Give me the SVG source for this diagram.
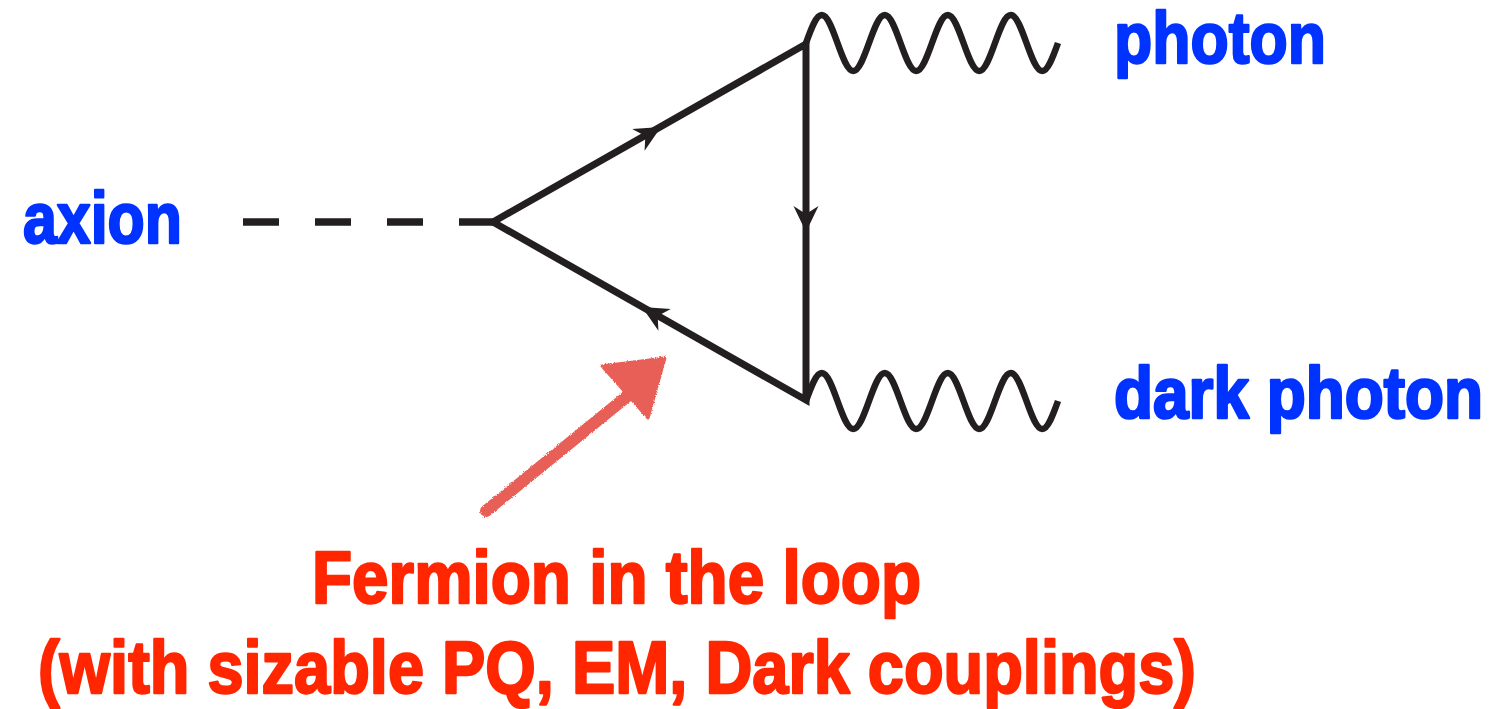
<svg xmlns="http://www.w3.org/2000/svg" width="1495" height="709" viewBox="0 0 1495 709">
  <defs>
    <style>
      .line { fill: none; stroke: #231f20; stroke-width: 7; stroke-linejoin: miter; }
      .wave { fill: none; stroke: #231f20; stroke-width: 6.5; stroke-linecap: butt; }
      .head { fill: #231f20; }
      .lbl { font-family: "Liberation Sans", Arial, sans-serif; font-weight: bold; font-size: 72px; fill: #0033ff; stroke: #0033ff; stroke-width: 2.4; stroke-linejoin: round; }
      .note { font-family: "Liberation Sans", Arial, sans-serif; font-weight: bold; font-size: 75px; fill: #ff2600; stroke: #ff2600; stroke-width: 2.4; stroke-linejoin: round; }
    </style>
    <path id="ah" d="M0,0 L-26,-12.5 L-18,0 L-26,12.5 Z"/>
    <filter id="chalk" x="-10%" y="-10%" width="120%" height="120%">
      <feTurbulence type="fractalNoise" baseFrequency="0.9" numOctaves="2" seed="3" result="n"/>
      <feDisplacementMap in="SourceGraphic" in2="n" scale="3" xChannelSelector="R" yChannelSelector="G"/>
    </filter>
  </defs>
  <rect width="1495" height="709" fill="#ffffff"/>

  <g id="connectors">
    <line x1="243" y1="222" x2="493" y2="222" stroke="#231f20" stroke-width="7.5" stroke-dasharray="36 36"/>
    <path class="line" d="M493,222 L806,44 L806,400 Z"/>
    <use href="#ah" class="head" transform="translate(661,127) rotate(-29.63)"/>
    <use href="#ah" class="head" transform="translate(806,232) rotate(90)"/>
    <use href="#ah" class="head" transform="translate(642,307) rotate(-150.37)"/>
    <path class="wave" d="M806,43 c 5.14,-14.34 10.13,-28 15.75,-28 c 5.62,0 10.61,13.66 15.75,28 c 5.14,14.34 10.13,28 15.75,28 c 5.62,0 10.61,-13.66 15.75,-28
      c 5.14,-14.34 10.13,-28 15.75,-28 c 5.62,0 10.61,13.66 15.75,28 c 5.14,14.34 10.13,28 15.75,28 c 5.62,0 10.61,-13.66 15.75,-28
      c 5.14,-14.34 10.13,-28 15.75,-28 c 5.62,0 10.61,13.66 15.75,28 c 5.14,14.34 10.13,28 15.75,28 c 5.62,0 10.61,-13.66 15.75,-28
      c 5.14,-14.34 10.13,-28 15.75,-28 c 5.62,0 10.61,13.66 15.75,28 c 5.14,14.34 10.13,28 15.75,28 c 5.62,0 10.61,-13.66 15.75,-28"/>
    <path class="wave" d="M806,401 c 5.14,-14.34 10.13,-28 15.75,-28 c 5.62,0 10.61,13.66 15.75,28 c 5.14,14.34 10.13,28 15.75,28 c 5.62,0 10.61,-13.66 15.75,-28
      c 5.14,-14.34 10.13,-28 15.75,-28 c 5.62,0 10.61,13.66 15.75,28 c 5.14,14.34 10.13,28 15.75,28 c 5.62,0 10.61,-13.66 15.75,-28
      c 5.14,-14.34 10.13,-28 15.75,-28 c 5.62,0 10.61,13.66 15.75,28 c 5.14,14.34 10.13,28 15.75,28 c 5.62,0 10.61,-13.66 15.75,-28
      c 5.14,-14.34 10.13,-28 15.75,-28 c 5.62,0 10.61,13.66 15.75,28 c 5.14,14.34 10.13,28 15.75,28 c 5.62,0 10.61,-13.66 15.75,-28"/>
  </g>

  <g id="axion">
    <text class="lbl" x="23" y="243" textLength="159" lengthAdjust="spacingAndGlyphs">axion</text>
  </g>
  <g id="photon">
    <text class="lbl" x="1114" y="63" textLength="212" lengthAdjust="spacingAndGlyphs">photon</text>
  </g>
  <g id="dark-photon">
    <text class="lbl" transform="translate(1114,418) scale(1,1.125)" x="0" y="0" style="font-size:64px" textLength="369" lengthAdjust="spacingAndGlyphs">dark photon</text>
  </g>

  <g id="annotation-arrow" filter="url(#chalk)">
    <line x1="486" y1="511" x2="630" y2="394" stroke="#e85f58" stroke-width="12" stroke-linecap="round"/>
    <polygon points="602,366 665,358 648,418" fill="#e85f58" stroke="#e85f58" stroke-width="3" stroke-linejoin="round"/>
  </g>

  <g id="annotation">
    <text class="note" x="312" y="603" textLength="609" lengthAdjust="spacingAndGlyphs">Fermion in the loop</text>
    <text class="note" x="38" y="693" textLength="1158" lengthAdjust="spacingAndGlyphs">(with sizable PQ, EM, Dark couplings)</text>
  </g>
</svg>
